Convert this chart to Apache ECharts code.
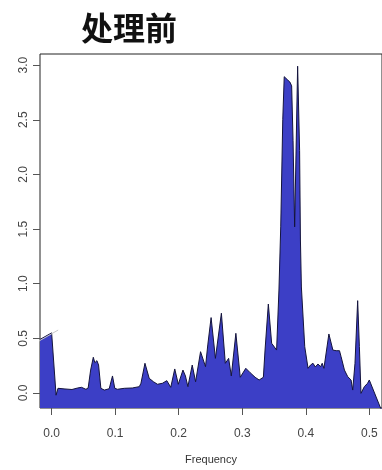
<!DOCTYPE html>
<html>
<head>
<meta charset="utf-8">
<script src="https://cdn.jsdelivr.net/npm/echarts@6/dist/echarts.min.js"></script>
<style>
  html, body { margin: 0; padding: 0; background: #fff; }
  #chart { width: 382px; height: 470px; }
</style>
</head>
<body>
<div id="chart"></div>
<script>
// spectrum (frequency, power)
const freq = [
  -0.0183, 0.0, 0.007, 0.010, 0.021, 0.032, 0.041, 0.047, 0.054, 0.0575,
  0.0614, 0.0656, 0.068, 0.0713, 0.0739, 0.0775, 0.083, 0.0906, 0.0958, 0.0994,
  0.1036, 0.1145, 0.127, 0.138, 0.1406, 0.1469, 0.1536, 0.1603, 0.1666, 0.1744,
  0.1813, 0.1875, 0.1938, 0.1994, 0.2067, 0.2106, 0.2145, 0.2213, 0.2266, 0.2344,
  0.2422, 0.2458, 0.251, 0.2578, 0.2672, 0.2734, 0.2786, 0.2828, 0.29, 0.2969,
  0.3056, 0.3125, 0.3203, 0.3266, 0.3333, 0.3359, 0.3411, 0.3463, 0.3541, 0.3578,
  0.3606, 0.3638, 0.3661, 0.3708, 0.375, 0.3778, 0.380, 0.3825, 0.3872, 0.3903,
  0.3916, 0.3931, 0.3984, 0.4036, 0.4075, 0.4114, 0.415, 0.4192, 0.4234, 0.4259,
  0.4286, 0.4364, 0.4427, 0.4478, 0.4531, 0.4556, 0.4609, 0.4661, 0.4713, 0.4739,
  0.4775, 0.4817, 0.4844, 0.4869, 0.4922, 0.4973, 0.500, 0.520
]
const power = [
  0.49, 0.55, -0.02, 0.043, 0.037, 0.032, 0.046, 0.052, 0.034, 0.046,
  0.21, 0.327, 0.277, 0.296, 0.256, 0.043, 0.027, 0.039, 0.156, 0.043,
  0.034, 0.043, 0.046, 0.058, 0.089, 0.272, 0.134, 0.103, 0.080, 0.089,
  0.113, 0.052, 0.220, 0.080, 0.210, 0.156, 0.058, 0.256, 0.103, 0.378,
  0.241, 0.44, 0.69, 0.317, 0.73, 0.272, 0.317, 0.156, 0.546, 0.144,
  0.226, 0.186, 0.144, 0.119, 0.144, 0.393, 0.814, 0.455, 0.393, 0.942,
  1.52, 2.50, 2.894, 2.868, 2.845, 2.81, 2.31, 1.52, 2.99, 2.22,
  1.40, 0.97, 0.424, 0.226, 0.256, 0.272, 0.238, 0.265, 0.241, 0.272,
  0.226, 0.54, 0.393, 0.387, 0.387, 0.332, 0.21, 0.149, 0.119, 0.027,
  0.272, 0.845, 0.424, -0.003, 0.058, 0.089, 0.119, -0.17
]
// faint grey stroke crossing the first peak
const greyFreq = [-0.0417, 0.0103]
const greyPower = [0.403, 0.576]

const xTicks = [0, 0.1, 0.2, 0.3, 0.4, 0.5]
const yTicks = [0, 0.5, 1, 1.5, 2, 2.5, 3]

const chart = echarts.init(document.getElementById('chart'), null, { renderer: 'canvas' })

const option = {
  animation: false,
  backgroundColor: '#fff',
  title: {
    text: '处理前',
    left: 76,
    top: 7,
    textStyle: {
      fontFamily: 'Noto Sans CJK SC',
      fontSize: 32,
      fontWeight: 'bold',
      color: '#111',
    },
  },
  grid: {
    left: 40,
    right: -2.5,
    top: 54,
    bottom: 62,
    show: true,
    borderColor: '#222',
    borderWidth: 1,
    backgroundColor: 'transparent',
  },
  xAxis: {
    type: 'value',
    min: -0.0183,
    max: 0.52,
    name: 'Frequency',
    nameLocation: 'middle',
    nameGap: 46,
    nameTextStyle: { fontFamily: 'Liberation Sans', fontSize: 11, color: '#333' },
    axisLine: { show: false, onZero: false },
    splitLine: { show: false },
    axisTick: { show: true, length: 7, lineStyle: { color: '#555' }, customValues: xTicks },
    axisLabel: {
      margin: 20,
      fontFamily: 'Liberation Sans',
      fontSize: 12,
      color: '#444',
      customValues: xTicks,
      formatter: (v) => v.toFixed(1),
    },
  },
  yAxis: {
    type: 'value',
    min: -0.1372,
    max: 3.1016,
    axisLine: { show: false, onZero: false },
    splitLine: { show: false },
    axisTick: { show: true, length: 7, lineStyle: { color: '#555' }, customValues: yTicks },
    axisLabel: {
      rotate: 90,
      margin: 10,
      fontFamily: 'Liberation Sans',
      fontSize: 12,
      color: '#444',
      customValues: yTicks,
      formatter: (v) => v.toFixed(1),
    },
  },
  series: [
    {
      type: 'line',
      data: freq.map((f, i) => [f, power[i]]),
      symbol: 'none',
      smooth: false,
      clip: true,
      lineStyle: { color: '#14143c', width: 1 },
      areaStyle: { color: '#3c3fc6', opacity: 1, origin: 'start' },
      z: 2,
    },
    {
      type: 'line',
      data: greyFreq.map((f, i) => [f, greyPower[i]]),
      symbol: 'none',
      clip: false,
      silent: true,
      lineStyle: { color: '#c8c8c8', width: 1 },
      z: 3,
    },
  ],
}

chart.setOption(option)
</script>
</body>
</html>
